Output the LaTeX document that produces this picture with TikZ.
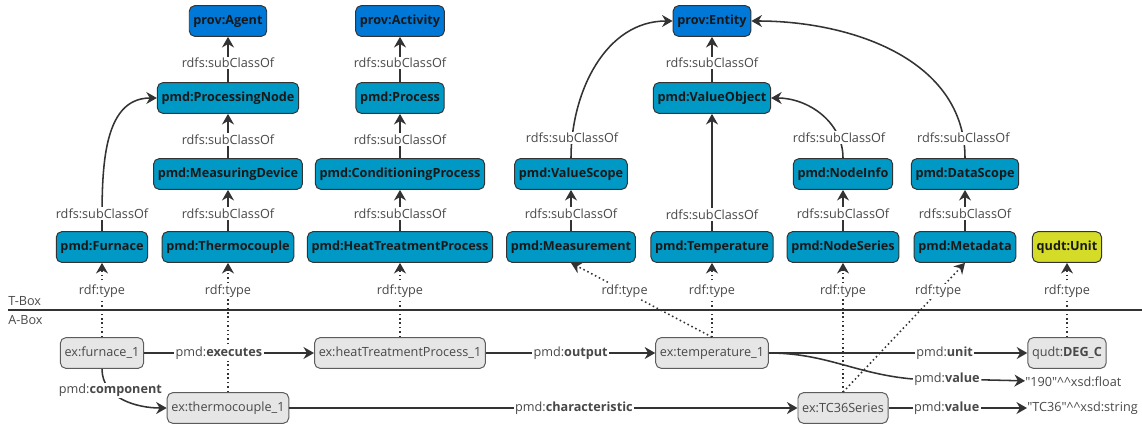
\documentclass[tikz,border=0pt]{standalone}
\usepackage{fontspec}
\setmainfont{Open Sans}
\usetikzlibrary{arrows.meta}
\definecolor{provblue}{RGB}{0,120,215}
\definecolor{pmdblue}{RGB}{0,152,196}
\definecolor{qudtyellow}{RGB}{212,220,40}
\definecolor{indgray}{RGB}{230,230,230}
\definecolor{edgegray}{RGB}{51,51,51}
\definecolor{lblgray}{RGB}{72,72,72}
\newcommand{\diafont}{\fontsize{9}{11}\selectfont}
\newcommand{\dtcaret}{\textasciicircum\textasciicircum}
\tikzset{%
  classnode/.style={draw=edgegray, rounded corners=4pt, minimum height=0.77cm, inner xsep=3pt, font=\diafont\bfseries, text=black!90, line width=0.7pt},
  provnode/.style={classnode, fill=provblue},
  pmdnode/.style={classnode, fill=pmdblue},
  qudtnode/.style={classnode, fill=qudtyellow},
  indnode/.style={draw=edgegray!80, fill=indgray, rounded corners=4pt, minimum height=0.77cm, inner xsep=3pt, font=\diafont, text=lblgray, line width=0.7pt},
  lbl/.style={fill=white, inner sep=1pt, font=\diafont, text=lblgray},
  litnode/.style={inner sep=0pt, anchor=west, font=\diafont, text=lblgray},
  subedge/.style={-{Stealth[length=7.5pt, width=8.5pt]}, line width=1.1pt, draw=edgegray},
  typeedge/.style={subedge, dotted},
  reledge/.style={subedge}
}
\begin{document}
\begin{tikzpicture}[x=0.025cm, y=-0.025cm]
  \useasboundingbox (0,0) rectangle (1142,428);

% T-Box classes
\node [provnode] (agent)    at (228,21) {prov:Agent};
\node [provnode] (activity) at (400,21) {prov:Activity};
\node [provnode] (entity)   at (712,21) {prov:Entity};

\node [pmdnode] (pnode)    at (228,98) {pmd:ProcessingNode};
\node [pmdnode] (process)  at (400,98) {pmd:Process};
\node [pmdnode] (valueobj) at (712,98) {pmd:ValueObject};

\node [pmdnode] (mdevice) at (228,174) {pmd:MeasuringDevice};
\node [pmdnode] (cproc)   at (400,174) {pmd:ConditioningProcess};
\node [pmdnode] (vscope)  at (571,174) {pmd:ValueScope};
\node [pmdnode] (ninfo)   at (843,174) {pmd:NodeInfo};
\node [pmdnode] (dscope)  at (965,174) {pmd:DataScope};

\node [pmdnode] (furnace) at (102,247) {pmd:Furnace};
\node [pmdnode] (thermo)  at (228,247) {pmd:Thermocouple};
\node [pmdnode] (htproc)  at (400,247) {pmd:HeatTreatmentProcess};
\node [pmdnode] (measure) at (571,247) {pmd:Measurement};
\node [pmdnode] (temp)    at (712,247) {pmd:Temperature};
\node [pmdnode] (nseries) at (843,247) {pmd:NodeSeries};
\node [pmdnode] (meta)    at (965,247) {pmd:Metadata};
\node [qudtnode] (unit)   at (1067,247) {qudt:Unit};

% Trennlinie
\coordinate (sepL) at (8,310);
\coordinate (sepR) at (1142,310);
\draw [line width=1pt, edgegray] (sepL) -- (sepR);
\node [anchor=west, inner sep=0pt, font=\diafont, text=lblgray] (tbox) at (8,301) {T-Box};
\node [anchor=west, inner sep=0pt, font=\diafont, text=lblgray] (abox) at (8,320) {A-Box};

% A-Box individuals
\node [indnode] (furnace1) at (102,353) {ex:furnace\_1};
\node [indnode] (htproc1)  at (400,353) {ex:heatTreatmentProcess\_1};
\node [indnode] (temp1)    at (712,353) {ex:temperature\_1};
\node [indnode] (degc)     at (1067,353) {qudt:\textbf{DEG\_C}};
\node [indnode] (thermo1)  at (228,408) {ex:thermocouple\_1};
\node [indnode] (tc36)     at (843,408) {ex:TC36Series};

\node [litnode] (float)  at (1025,382) {\textquotedbl 190\textquotedbl\dtcaret xsd:float};
\node [litnode] (string) at (1027,408) {\textquotedbl TC36\textquotedbl\dtcaret xsd:string};
\node [lbl] (vallbl) at (947,379) {pmd:\textbf{value}};

% subClassOf
\foreach \a/\b in {pnode/agent, process/activity, valueobj/entity,
                   mdevice/pnode, cproc/process,
                   thermo/mdevice, htproc/cproc, measure/vscope, nseries/ninfo, meta/dscope} {
  \draw [subedge] (\a) -- node[lbl, pos=0.42] {rdfs:subClassOf} (\b);
}
\draw [subedge] (temp) -- node[lbl, pos=0.14] {rdfs:subClassOf} (valueobj);
\draw [subedge] (furnace) to[out=90, in=180] node[lbl, pos=0.1] {rdfs:subClassOf} (pnode.west);
\draw [subedge] (vscope) to[out=90, in=180] node[lbl, pos=0.1] {rdfs:subClassOf} (entity.west);
\draw [subedge] (ninfo) to[out=90, in=0] node[lbl, pos=0.2] {rdfs:subClassOf} (valueobj.east);
\draw [subedge] (dscope) to[out=90, in=0] node[lbl, pos=0.07] {rdfs:subClassOf} (entity.east);

% rdf:type
\foreach \a/\b in {furnace1/furnace, htproc1/htproc, temp1/temp, degc/unit} {
  \draw [typeedge] (\a) -- node[lbl, pos=0.62] {rdf:type} (\b);
}
\draw [typeedge] (temp1.north) -- node[lbl, pos=0.62] {rdf:type} (measure.south);
\draw [typeedge] (thermo1) -- node[lbl, pos=0.78] {rdf:type} (thermo);
\draw [typeedge] (tc36) -- node[lbl, pos=0.78] {rdf:type} (nseries);
\draw [typeedge] (tc36.north) -- node[lbl, pos=0.78] {rdf:type} (meta.south);

% Relationen
\draw [reledge] (furnace1) -- node[lbl, pos=0.44] {pmd:\textbf{executes}} (htproc1);
\draw [reledge] (htproc1) -- node[lbl] {pmd:\textbf{output}} (temp1);
\draw [reledge] (temp1) -- node[lbl, pos=0.68] {pmd:\textbf{unit}} (degc);
\draw [line width=1.1pt, edgegray] (temp1.east) to[out=0, in=175] (vallbl.west);
\draw [reledge] (vallbl) -- (float);
\draw [reledge] (furnace1) to[out=-90, in=180] node[lbl, pos=0.3] {pmd:\textbf{component}} (thermo1);
\draw [reledge] (thermo1) -- node[lbl, pos=0.56] {pmd:\textbf{characteristic}} (tc36);
\draw [reledge] (tc36) -- node[lbl, pos=0.42] {pmd:\textbf{value}} (string);
\end{tikzpicture}
\end{document}
